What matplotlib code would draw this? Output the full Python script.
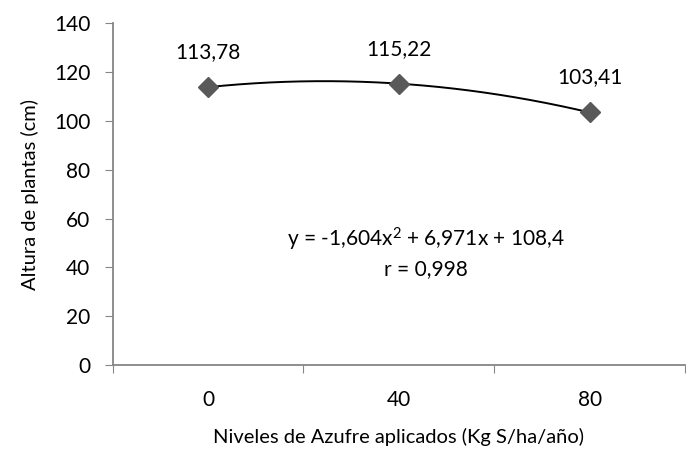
import numpy as np
import matplotlib.pyplot as plt

plt.rcParams['font.family'] = ['Lato', 'DejaVu Sans']
plt.rcParams['mathtext.default'] = 'regular'

# data
niveles = ['0', '40', '80']
altura = [113.78, 115.22, 103.41]
etiquetas = ['113,78', '115,22', '103,41']
ecuacion = 'y = -1,604x$^{2}$ + 6,971x + 108,4'
r_txt = 'r = 0,998'

x = np.arange(1, len(niveles) + 1)

fig = plt.figure(figsize=(6.86, 4.53), dpi=100)
ax = fig.add_axes([0.164, 0.194, 0.835, 0.755])

# polynomial trendline (order 2) through the points
coef = np.polyfit(x, altura, 2)
xs = np.linspace(x[0], x[-1], 200)
ax.plot(xs, np.polyval(coef, xs), color='black', lw=1.4, zorder=2)

# points
ax.plot(x, altura, linestyle='none', marker='D', markersize=10,
        color='#595959', zorder=3)

for xi, yi, lab in zip(x, altura, etiquetas):
    ax.annotate(lab, (xi, yi), xytext=(0, 18), textcoords='offset points',
                ha='center', va='bottom', fontsize=15)

ax.text(2.14, 51.4, ecuacion, ha='center', va='center', fontsize=15)
ax.text(2.14, 39.2, r_txt, ha='center', va='center', fontsize=15)

ax.set_xlim(0.5, 3.5)
ax.set_ylim(0, 140)
ax.set_yticks(range(0, 141, 20))
ax.set_xticks([0.5, 1.5, 2.5, 3.5])
ax.set_xticklabels([])
ax.set_xticks(x, minor=True)
ax.set_xticklabels(niveles, minor=True, fontsize=15)
ax.tick_params(axis='x', which='minor', length=0, pad=18)
ax.tick_params(axis='x', which='major', length=6, color='#868686', direction='out')
ax.tick_params(axis='y', length=6, color='#868686', labelsize=15, pad=10)

for s in ['top', 'right']:
    ax.spines[s].set_visible(False)
for s in ['left', 'bottom']:
    ax.spines[s].set_color('#868686')
    ax.spines[s].set_linewidth(1.3)

ax.set_xlabel('Niveles de Azufre aplicados (Kg S/ha/año)', fontsize=14.5, labelpad=13)
ax.set_ylabel('Altura de plantas (cm)', fontsize=14.5, labelpad=11)

fig.savefig('out.png', dpi=100)
